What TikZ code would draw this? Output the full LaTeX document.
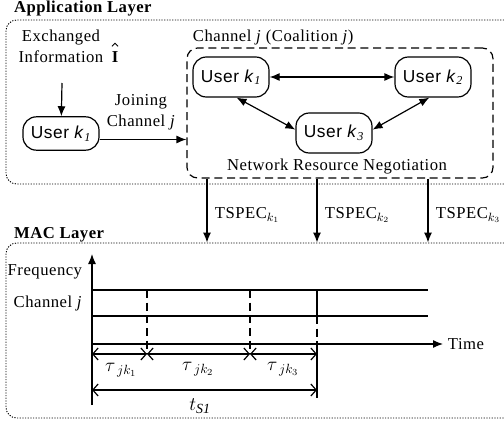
\documentclass[tikz,border=0pt]{standalone}
\usepackage{fontspec}
\setmainfont{Liberation Serif}[LetterSpace=3]
\setsansfont{Liberation Sans}[LetterSpace=3]
\usetikzlibrary{arrows.meta,calc}
\begin{document}
\begin{tikzpicture}[x=0.75pt,y=-0.75pt,
  font=\fontsize{12.5}{15.5}\selectfont,
  line width=0.9pt,
  tip/.style={-{Latex[length=7.5pt,width=6pt]}},
  dtip/.style={{Latex[length=7.5pt,width=6pt]}-{Latex[length=7.5pt,width=6pt]}},
  btip/.style={{Straight Barb[length=4pt,width=9pt]}-{Straight Barb[length=4pt,width=9pt]}},
  user/.style={draw, rounded corners=10pt, minimum width=57pt, inner sep=2pt,
    font=\sffamily\fontsize{13}{15}\selectfont},
  layerbox/.style={draw, line width=0.7pt, dash pattern=on 0.9pt off 1.1pt, rounded corners=8pt, inner sep=0pt},
  chanbox/.style={draw, line width=0.9pt, dash pattern=on 6pt off 3.5pt, rounded corners=8pt, inner sep=0pt},
  title/.style={font=\bfseries\fontsize{12.5}{15}\selectfont, anchor=west},
  lbl/.style={inner sep=1pt},
  taulbl/.style={inner sep=1pt, font=\fontsize{14}{14}\selectfont}
  ]
\useasboundingbox (0,0) rectangle (504,425);
\clip (0,0) rectangle (504,425);

% ---------- Application layer ----------
\node[title] (apptitle) at (9,8.5) {Application Layer};
\node[layerbox, minimum width=385.5pt, minimum height=123pt] (appbox) at (263,102) {};

\node[lbl, align=center, inner sep=0pt] (exch) at (61,46) {Exchanged\\Information};
\node[inner sep=0pt, font=\bfseries\fontsize{12.5}{12.5}\selectfont] (ihat) at (115,57) {I};
\draw[line width=0.6pt] ([xshift=-2.3pt,yshift=3.5pt]ihat.north) -- ([yshift=5.8pt]ihat.north)
  -- ([xshift=2.3pt,yshift=3.5pt]ihat.north);
\coordinate (exchbot) at (62,83);
\node[user, minimum height=25pt] (uo) at (61,133.5) {User \textit{k}$_{\mathit{1}}$};
\draw[tip] (exchbot) -- (uo);

\node[chanbox, minimum width=229.5pt, minimum height=97.5pt] (chan) at (340,113) {};
\node[lbl, anchor=west] (chanlbl) at (191,37) {Channel \textit{j} (Coalition \textit{j})};
\coordinate (joinstart) at ([yshift=-4.5pt]uo.east);
\draw[tip] (joinstart) -- (chan.west |- joinstart);
\node[lbl, align=center] (join) at (141,112) {Joining\\Channel \textit{j}};

\node[user, minimum height=30pt] (u1) at (231,77) {User \textit{k}$_{\mathit{1}}$};
\node[user, minimum height=30pt] (u2) at (433,77) {User \textit{k}$_{\mathit{2}}$};
\node[user, minimum height=30pt] (u3) at (334,133) {User \textit{k}$_{\mathit{3}}$};
\draw[dtip] (u1) -- (u2);
\draw[dtip] (u1.-75) -- (u3.175);
\draw[dtip] (u2.-100) -- (u3.5);
\node[lbl] (nrn) at (337,167) {Network Resource Negotiation};

% ---------- MAC layer ----------
\node[title] (mactitle) at (9,235) {MAC Layer};
\node[layerbox, minimum width=385.5pt, minimum height=131.25pt] (macbox) at (263,330.5) {};

\coordinate (x1) at (207,0);
\coordinate (x2) at (317,0);
\coordinate (x3) at (428,0);
\draw[tip] (chan.south -| x1) -- (macbox.north -| x1);
\draw[tip] (chan.south -| x2) -- (macbox.north -| x2);
\draw[tip] (chan.south -| x3) -- (macbox.north -| x3);
\node[lbl, anchor=west] (ts1) at (213,215) {TSPEC$_{k_1}$};
\node[lbl, anchor=west] (ts2) at (323,215) {TSPEC$_{k_2}$};
\node[lbl, anchor=west] (ts3) at (434,215) {TSPEC$_{k_3}$};

% axes
\coordinate (fbot) at (92,405);
\coordinate (ftop) at (92,254);
\coordinate (o) at (92,344);
\coordinate (tend) at (443,344);
\draw[tip] (fbot) -- (ftop);
\draw[tip] (o) -- (tend);
\node[lbl, anchor=west] (time) at (446,344) {Time};
\node[lbl, anchor=east] (freq) at (84,272) {Frequency};
\node[lbl, anchor=east] (chj) at (84,303) {Channel \textit{j}};

% channel lines
\coordinate (c1a) at (92,290); \coordinate (c1b) at (428,290);
\coordinate (c2a) at (92,316); \coordinate (c2b) at (428,316);
\draw (c1a) -- (c1b);
\draw (c2a) -- (c2b);

% time markers
\coordinate (m1t) at (147,290); \coordinate (m1b) at (147,354);
\coordinate (m2t) at (250,290); \coordinate (m2b) at (250,354);
\coordinate (m3a) at (317,290); \coordinate (m3b) at (317,316);
\coordinate (m3c) at (317,344); \coordinate (m3d) at (317,398);
\draw[dash pattern=on 6pt off 3.5pt] (m1t) -- (m1b);
\draw[dash pattern=on 6pt off 3.5pt] (m2t) -- (m2b);
\draw (m3a) -- (m3b);
\draw[dash pattern=on 6pt off 3.5pt] (m3b) -- (m3c);
\draw (m3c) -- (m3d);

% durations
\coordinate (d0) at (92,354);
\coordinate (d3) at (317,354);
\draw[btip] (d0) -- (m1b);
\draw[btip] (m1b) -- (m2b);
\draw[btip] (m2b) -- (d3);
\node[taulbl] (tau1) at (121,370) {$\tau_{\;jk_1}$};
\node[taulbl] (tau2) at (198,369) {$\tau_{\;jk_2}$};
\node[taulbl] (tau3) at (283,369) {$\tau_{\;jk_3}$};
\coordinate (s0) at (92,390);
\coordinate (s1) at (317,390);
\draw[btip] (s0) -- (s1);
\node[lbl, font=\fontsize{15}{15}\selectfont] (ts) at (200,406) {$t_{\mathit{S1}}$};
\end{tikzpicture}
\end{document}
